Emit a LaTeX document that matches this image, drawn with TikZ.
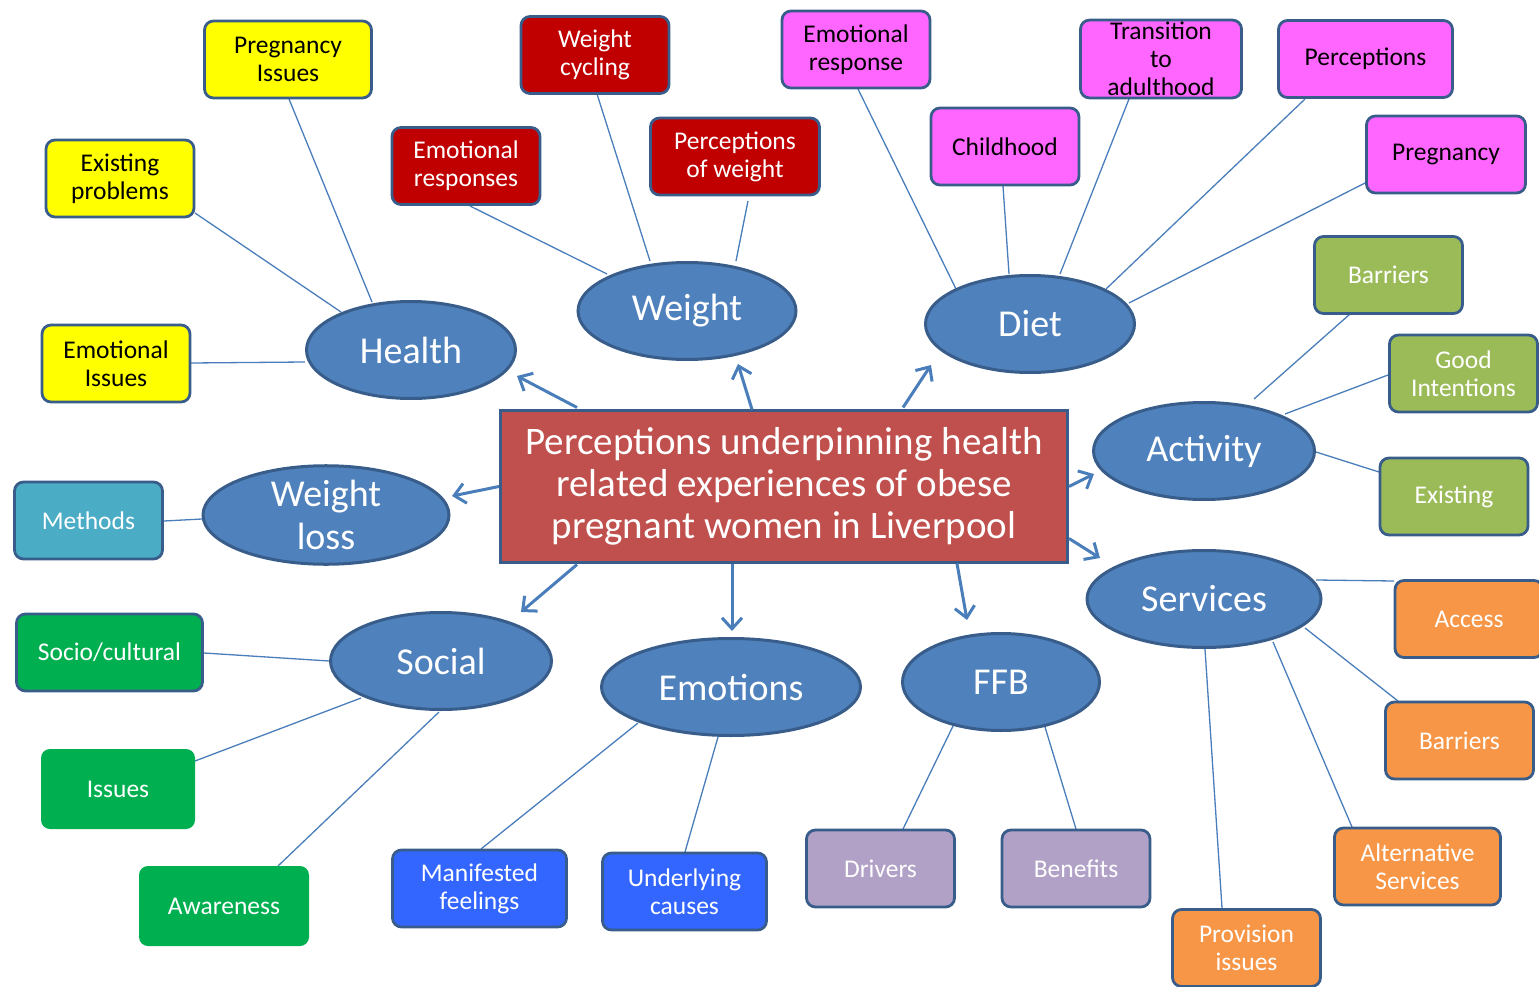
\documentclass[tikz,border=0pt]{standalone}
\usepackage{fontspec}
\setmainfont{Carlito}
\usetikzlibrary{shapes.geometric,arrows.meta,backgrounds}
\definecolor{bord}{HTML}{385D8A}
\definecolor{topicfill}{HTML}{4F81BD}
\definecolor{linkc}{HTML}{4A7EBB}
\definecolor{centrefill}{HTML}{C0504D}
\definecolor{yel}{HTML}{FFFF00}
\definecolor{redbox}{HTML}{C00000}
\definecolor{magbox}{HTML}{FF66FF}
\definecolor{olive}{HTML}{9BBB59}
\definecolor{teal}{HTML}{4BACC6}
\definecolor{grn}{HTML}{00B050}
\definecolor{bluebox}{HTML}{3366FF}
\definecolor{lav}{HTML}{B2A1C7}
\definecolor{orng}{HTML}{F79646}
\begin{document}
\begin{tikzpicture}[x=1pt,y=-1pt,
  box/.style={rectangle, rounded corners=9pt, draw=bord, line width=2.8pt,
    minimum width=148pt, minimum height=77pt, align=center, inner sep=2pt,
    font=\fontsize{25.5}{28}\selectfont, text=white},
  topic/.style={ellipse, draw=bord, line width=3pt, fill=topicfill, text=white,
    inner sep=0pt, align=center, font=\fontsize{38}{43}\selectfont},
  link/.style={draw=linkc, line width=1.3pt},
  arr/.style={draw=linkc, line width=3pt, -{Straight Barb[length=11pt,width=20pt]}}]
\useasboundingbox (0,0) rectangle (1539,987);

% central node
\node[rectangle, draw=bord, line width=3pt, fill=centrefill, text=white,
  minimum width=567pt, minimum height=152pt, align=center,
  font=\fontsize{39}{42}\selectfont] (C) at (784,486)
  {Perceptions underpinning health\\related experiences of obese\\pregnant women in Liverpool};

% topics
\node[topic, minimum width=209pt, minimum height=97pt] (health) at (411,350) {Health};
\node[topic, minimum width=218pt, minimum height=97pt] (weight) at (687,311) {Weight};
\node[topic, minimum width=209pt, minimum height=97pt] (diet) at (1030,324) {Diet};
\node[topic, minimum width=221pt, minimum height=97pt] (activity) at (1204,451) {Activity};
\node[topic, minimum width=246pt, minimum height=98pt] (wloss) at (326,515) {Weight\\loss};
\node[topic, minimum width=234pt, minimum height=97pt] (services) at (1204,599) {Services};
\node[topic, minimum width=221pt, minimum height=97pt] (social) at (441,661) {Social};
\node[topic, minimum width=259pt, minimum height=97pt] (emotions) at (731,687) {Emotions};
\node[topic, minimum width=197pt, minimum height=97pt] (ffb) at (1001,682) {FFB};

% Health sub-boxes
\node[box, fill=yel, text=black, minimum width=167pt] (pregIss) at (288,59.5) {Pregnancy\\Issues};
\node[box, fill=yel, text=black] (exProb) at (120,178.5) {Existing\\problems};
\node[box, fill=yel, text=black] (emoIss) at (116,363.5) {Emotional\\Issues};
% Weight sub-boxes
\node[box, fill=redbox] (emoResp) at (466,166) {Emotional\\responses};
\node[box, fill=redbox] (wCyc) at (595,55) {Weight\\cycling};
\node[box, fill=redbox, minimum width=169pt] (percW) at (735,156.5) {Perceptions\\of weight};
% Diet sub-boxes
\node[box, fill=magbox, text=black] (emoResp2) at (856,49.5) {Emotional\\response};
\node[box, fill=magbox, text=black] (child) at (1005,146.5) {Childhood};
\node[box, fill=magbox, text=black, minimum width=161pt] (trans) at (1161,59) {Transition\\to\\adulthood};
\node[box, fill=magbox, text=black, minimum width=174pt] (perc) at (1365.5,59) {Perceptions};
\node[box, fill=magbox, text=black, minimum width=159pt] (preg) at (1446,154.5) {Pregnancy};
% Activity sub-boxes
\node[box, fill=olive] (actBar) at (1388.5,275) {Barriers};
\node[box, fill=olive] (good) at (1463.5,373.5) {Good\\Intentions};
\node[box, fill=olive] (exist) at (1454,496.5) {Existing};
% Weight loss
\node[box, fill=teal] (methods) at (88.5,520.5) {Methods};
% Social
\node[box, fill=grn, minimum width=186pt] (socio) at (109.5,652.5) {Socio/cultural};
\node[box, fill=grn, draw=none, minimum width=154pt, minimum height=80pt] (issues) at (118,789) {Issues};
\node[box, fill=grn, draw=none, minimum width=170pt, minimum height=80pt] (aware) at (224,906) {Awareness};
% Emotions
\node[box, fill=bluebox, minimum width=174pt] (manif) at (479.5,888.5) {Manifested\\feelings};
\node[box, fill=bluebox, minimum width=164pt] (under) at (684.5,891.5) {Underlying\\causes};
% FFB
\node[box, fill=lav] (drivers) at (880.5,868.5) {Drivers};
\node[box, fill=lav] (benef) at (1076,868.5) {Benefits};
% Services
\node[box, fill=orng] (access) at (1469,619) {Access};
\node[box, fill=orng] (srvBar) at (1459.5,740.5) {Barriers};
\node[box, fill=orng, minimum width=166pt] (alt) at (1417.5,866.5) {Alternative\\Services};
\node[box, fill=orng] (prov) at (1246.5,948) {Provision\\issues};

\begin{scope}[on background layer]
% Health links
\draw[link] ([shift={(1,39.5)}]pregIss.center) -- ([shift={(-39,-48)}]health.center);
\draw[link] ([shift={(75,34.5)}]exProb.center) -- ([shift={(-70,-38)}]health.center);
\draw[link] ([shift={(75,-0.5)}]emoIss.center) -- ([shift={(-106,12)}]health.center);
% Weight links
\draw[link] ([shift={(4,40)}]emoResp.center) -- ([shift={(-80,-37)}]weight.center);
\draw[link] ([shift={(2,39)}]wCyc.center) -- ([shift={(-37,-50)}]weight.center);
\draw[link] ([shift={(13,44.5)}]percW.center) -- ([shift={(49,-50)}]weight.center);
% Diet links
\draw[link] ([shift={(2,39.5)}]emoResp2.center) -- ([shift={(-74,-35)}]diet.center);
\draw[link] ([shift={(-2,39.5)}]child.center) -- ([shift={(-21,-50)}]diet.center);
\draw[link] ([shift={(-32,40)}]trans.center) -- ([shift={(30,-50)}]diet.center);
\draw[link] ([shift={(-60.5,40)}]perc.center) -- ([shift={(76,-35)}]diet.center);
\draw[link] ([shift={(-81,28.5)}]preg.center) -- ([shift={(99,-21)}]diet.center);
% Activity links
\draw[link] ([shift={(-38.5,39)}]actBar.center) -- ([shift={(50,-52)}]activity.center);
\draw[link] ([shift={(-75.5,1.5)}]good.center) -- ([shift={(81,-37)}]activity.center);
\draw[link] ([shift={(-75,-24.5)}]exist.center) -- ([shift={(112,1)}]activity.center);
% Weight loss link
\draw[link] ([shift={(75.5,0.5)}]methods.center) -- ([shift={(-124,4)}]wloss.center);
% Services links
\draw[link] ([shift={(-75,-38)}]access.center) -- ([shift={(112,-19)}]services.center);
\draw[link] ([shift={(-61.5,-39.5)}]srvBar.center) -- ([shift={(101,29)}]services.center);
\draw[link] ([shift={(-65.5,-39.5)}]alt.center) -- ([shift={(69,43)}]services.center);
\draw[link] ([shift={(-24.5,-40)}]prov.center) -- ([shift={(1,50)}]services.center);
% Social links
\draw[link] ([shift={(94.5,0.5)}]socio.center) -- ([shift={(-112,0)}]social.center);
\draw[link] ([shift={(77,-28)}]issues.center) -- ([shift={(-80,37)}]social.center);
\draw[link] ([shift={(54,-40)}]aware.center) -- ([shift={(-2,51)}]social.center);
% Emotions links
\draw[link] ([shift={(1.5,-39.5)}]manif.center) -- ([shift={(-93,36)}]emotions.center);
\draw[link] ([shift={(0.5,-39.5)}]under.center) -- ([shift={(-13,50)}]emotions.center);
% FFB links
\draw[link] ([shift={(22.5,-39.5)}]drivers.center) -- ([shift={(-48,44)}]ffb.center);
\draw[link] ([shift={(0,-39.5)}]benef.center) -- ([shift={(44,45)}]ffb.center);
\end{scope}

% arrows from the central node
\draw[arr] ([shift={(-207,-78.5)}]C.center) -- ([shift={(106,26)}]health.center);
\draw[arr] ([shift={(-32,-76.5)}]C.center) -- ([shift={(51,53)}]weight.center);
\draw[arr] ([shift={(119,-78.5)}]C.center) -- ([shift={(-99,41)}]diet.center);
\draw[arr] ([shift={(-285,0.5)}]C.center) -- ([shift={(126,-19)}]wloss.center);
\draw[arr] ([shift={(285,0.5)}]C.center) -- ([shift={(-110,23)}]activity.center);
\draw[arr] ([shift={(285,52.5)}]C.center) -- ([shift={(-104,-41)}]services.center);
\draw[arr] ([shift={(-207,78.5)}]C.center) -- ([shift={(80,-49)}]social.center);
\draw[arr] ([shift={(-52,77.5)}]C.center) -- ([shift={(1,-56)}]emotions.center);
\draw[arr] ([shift={(173,77.5)}]C.center) -- ([shift={(-34,-62)}]ffb.center);
\end{tikzpicture}
\end{document}
